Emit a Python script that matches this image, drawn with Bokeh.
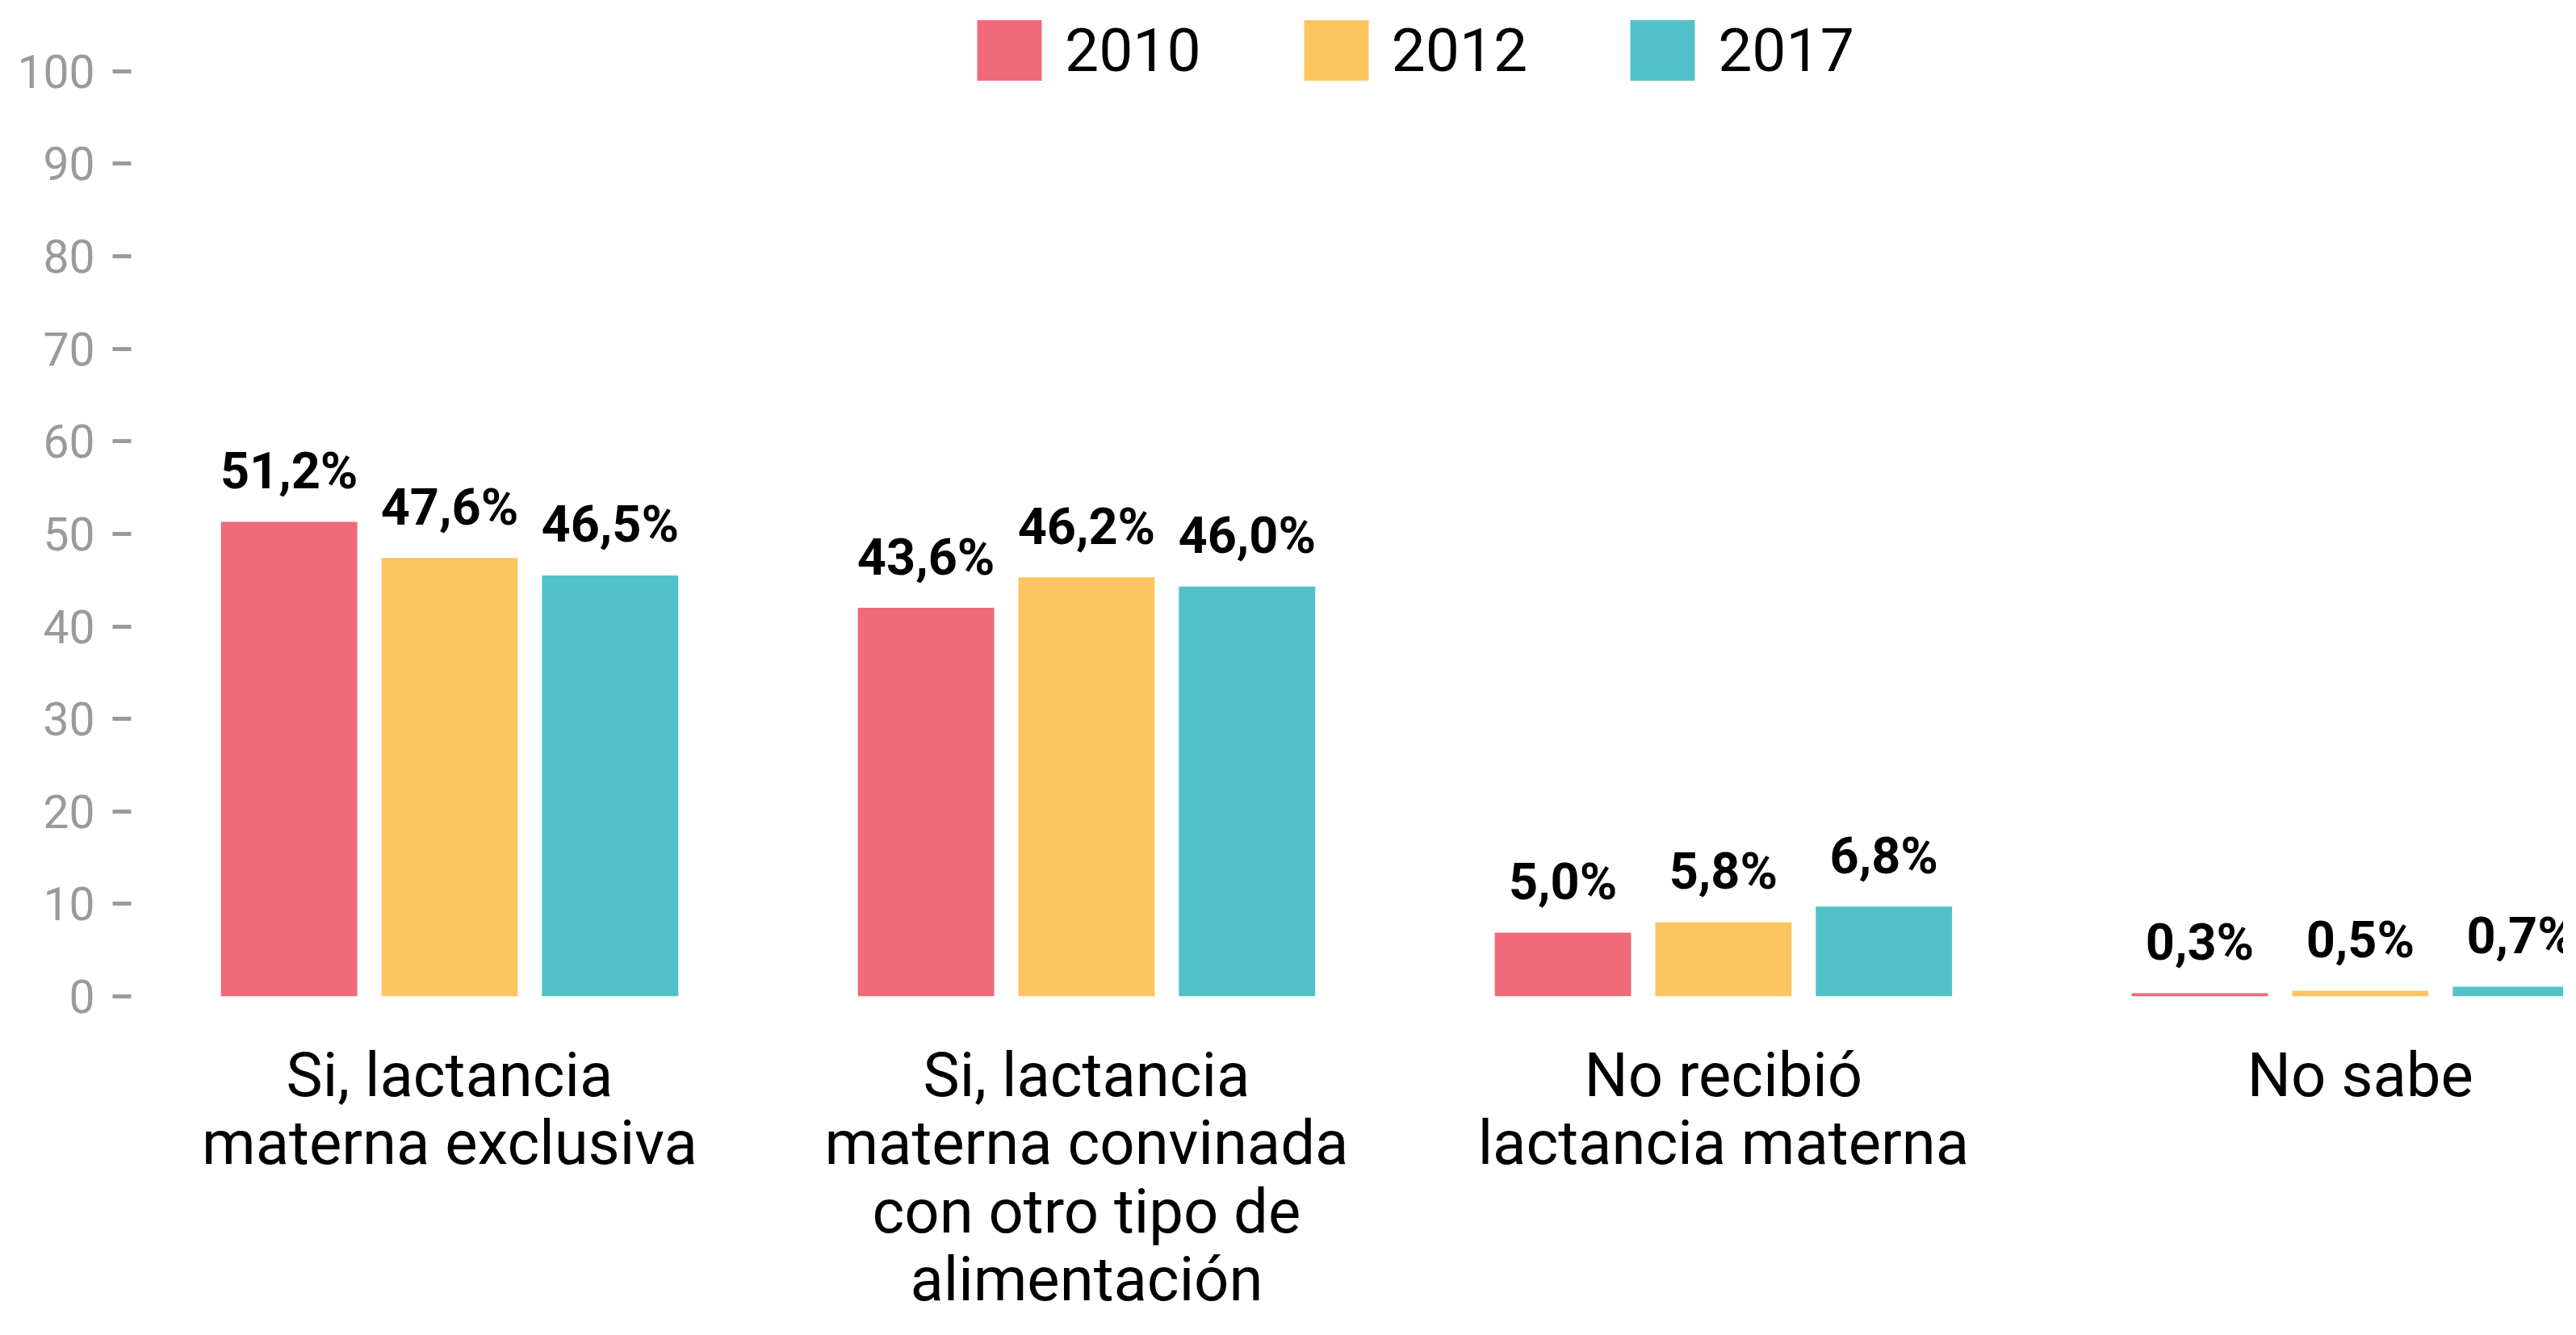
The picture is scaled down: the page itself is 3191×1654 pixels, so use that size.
from bokeh.plotting import figure
from bokeh.models import Range1d, FixedTicker, Legend, LegendItem, ColumnDataSource
from bokeh.core.properties import value
from bokeh.embed import file_html
from bokeh.resources import INLINE

# ---- data ----
categories = [
    "Si, lactancia\nmaterna exclusiva",
    "Si, lactancia\nmaterna convinada\ncon otro tipo de\nalimentación",
    "No recibió\nlactancia materna",
    "No sabe",
]
years = ["2010", "2012", "2017"]
# bar heights as drawn in the picture
bars_2010 = [51.3, 42.0, 6.9, 0.35]
bars_2012 = [47.4, 45.3, 8.0, 0.6]
bars_2017 = [45.5, 44.3, 9.7, 1.05]
# printed labels
labels_2010 = ["51,2%", "43,6%", "5,0%", "0,3%"]
labels_2012 = ["47,6%", "46,2%", "5,8%", "0,5%"]
labels_2017 = ["46,5%", "46,0%", "6,8%", "0,7%"]
y_ticks = [0, 10, 20, 30, 40, 50, 60, 70, 80, 90, 100]

colors = ["#f06a79", "#fdc55f", "#52c2c9"]
series = [bars_2010, bars_2012, bars_2017]
series_labels = [labels_2010, labels_2012, labels_2017]
offsets = [-0.252, 0.0, 0.252]
bar_width = 0.214

W, H = 3175, 1638
p = figure(width=W, height=H, output_backend="svg", toolbar_location=None,
           x_range=Range1d(0, 3.819), y_range=Range1d(0, 106))
p.min_border_left = 162
p.min_border_right = 0
p.min_border_top = 19
p.min_border_bottom = 404
p.outline_line_color = None
p.xgrid.grid_line_color = None
p.ygrid.grid_line_color = None
p.background_fill_color = "white"
p.border_fill_color = "white"

centers = [i + 0.5 for i in range(len(categories))]

renderers = []
for vals, labs, col, off in zip(series, series_labels, colors, offsets):
    src = ColumnDataSource(dict(x=[c + off for c in centers], top=vals, lab=labs))
    r = p.vbar(x="x", top="top", bottom=0, width=bar_width, source=src,
               fill_color=col, line_color=None)
    renderers.append(r)
    p.text(x="x", y="top", text="lab", source=src, text_align="center",
           text_baseline="alphabetic", y_offset=-63,
           text_font=value("Roboto"), text_font_style="bold",
           text_font_size="63px", text_color="black")

# y axis
ya = p.yaxis[0]
ya.ticker = FixedTicker(ticks=y_ticks)
ya.axis_line_color = None
ya.major_tick_out = 23
ya.major_tick_in = 0
ya.minor_tick_line_color = None
ya.major_tick_line_color = "#9a9a9a"
ya.major_tick_line_width = 5
ya.major_label_text_color = "#9a9a9a"
ya.major_label_text_font = "Roboto"
ya.major_label_text_font_size = "57px"
ya.major_label_standoff = 22

# x axis
xa = p.xaxis[0]
xa.ticker = FixedTicker(ticks=centers)
xa.major_label_overrides = {c: lab for c, lab in zip(centers, categories)}
xa.axis_line_color = None
xa.major_tick_line_color = None
xa.minor_tick_line_color = None
xa.major_label_text_color = "black"
xa.major_label_text_font = "Roboto"
xa.major_label_text_font_size = "76px"
xa.major_label_standoff = 46
xa.major_label_text_line_height = 0.94

legend = Legend(items=[LegendItem(label=y, renderers=[r]) for y, r in zip(years, renderers)],
                orientation="horizontal", location=(1038, 1125))
legend.padding = 0
legend.margin = 0
legend.border_line_color = None
legend.background_fill_alpha = 0
legend.glyph_width = 100
legend.glyph_height = 94
legend.label_standoff = 19
legend.label_width = 166
legend.label_height = 94
legend.spacing = 117
legend.label_text_font = "Roboto"
legend.label_text_font_size = "75px"
legend.label_text_color = "black"
legend.label_text_baseline = "middle"
p.add_layout(legend, "center")

open("out.html", "w").write(file_html(p, INLINE))
